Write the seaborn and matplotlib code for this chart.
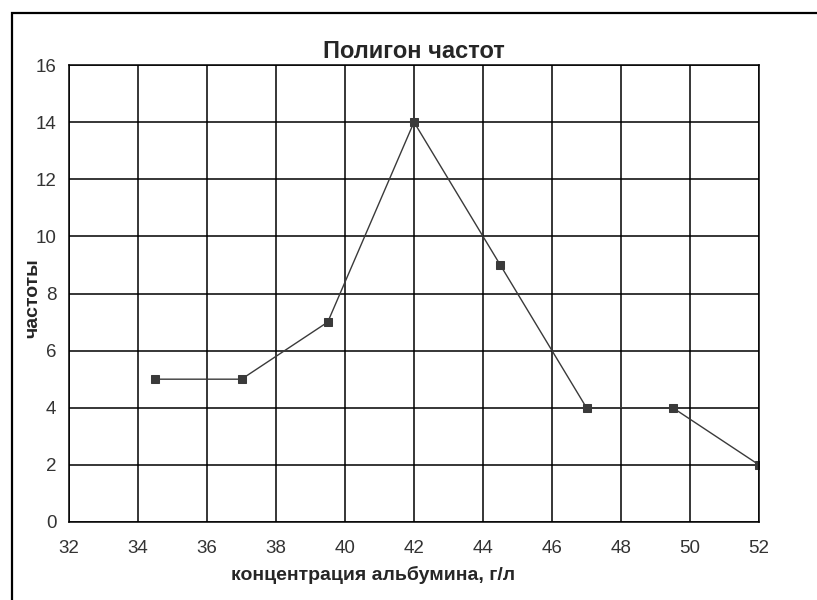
import matplotlib
matplotlib.use("Agg")
import matplotlib.pyplot as plt
import pandas as pd
import seaborn as sns
from matplotlib.patches import Rectangle

# values read from the polygon
conc = [34.5, 37, 39.5, 42, 44.5, 47, 49.5, 52]
freq = [5, 5, 7, 14, 9, 4, 4, 2]
x_ticks = [32, 34, 36, 38, 40, 42, 44, 46, 48, 50, 52]
y_ticks = [0, 2, 4, 6, 8, 10, 12, 14, 16]

df = pd.DataFrame({'conc': conc, 'freq': freq})

sns.set_style("white")
plt.rcParams['font.family'] = ['Liberation Sans', 'DejaVu Sans']

fig = plt.figure(figsize=(8.17, 6), dpi=100)
ax = fig.add_axes([69/817, 1 - 522/600, (759 - 69)/817, (522 - 65)/600])

sns.lineplot(data=df, x='conc', y='freq', ax=ax, color='#3a3a3a', lw=1,
             marker='s', markersize=6, markeredgecolor='#3a3a3a')

ax.set_xlim(32, 52)
ax.set_ylim(0, 16)
ax.set_xticks(x_ticks)
ax.set_yticks(y_ticks)
ax.grid(True, color='black', lw=1.1)
ax.set_axisbelow(True)
for s in ax.spines.values():
    s.set_color('black')
    s.set_linewidth(1.1)
ax.tick_params(direction='out', length=4, width=1, colors='black', labelsize=13.5,
               labelcolor='#333333')
ax.tick_params(axis='x', pad=9)
ax.tick_params(axis='y', pad=5)

ax.set_title('Полигон частот', fontsize=17, fontweight='bold', pad=5)
ax.set_xlabel('концентрация альбумина, г/л', fontsize=14, fontweight='bold')
ax.set_ylabel('частоты', fontsize=14, fontweight='bold')
ax.xaxis.set_label_coords((373 - 69)/690, -(575 - 522)/457)
ax.yaxis.set_label_coords(-(69 - 33)/690, 0.49)
ax.xaxis.label.set_va('center')
ax.yaxis.label.set_va('center')

# outer chart frame (cut off at right and bottom in the original)
fig.patches.append(Rectangle((12/817, -0.1), 1.2, 1.1 - 13/600, transform=fig.transFigure,
                             fill=False, lw=1.6, ec='black'))

fig.savefig('out.png', dpi=100)
